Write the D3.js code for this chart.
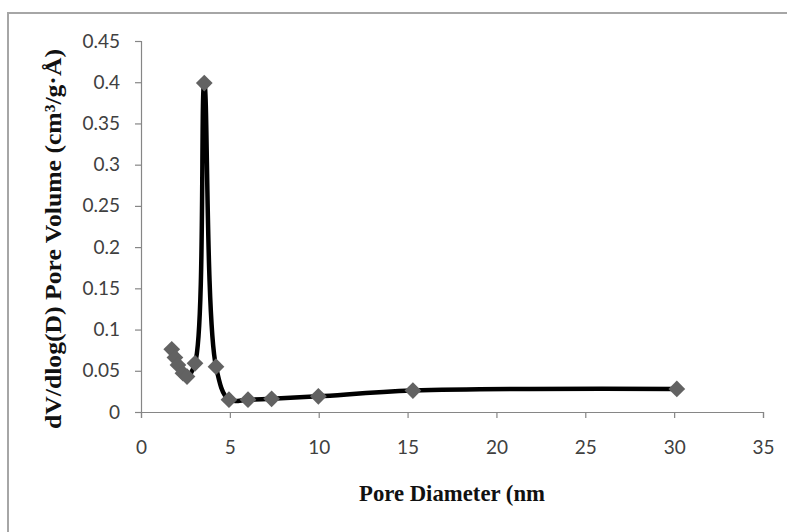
<!DOCTYPE html>
<html>
<head>
<meta charset="utf-8">
<script src="https://cdn.jsdelivr.net/npm/d3@7"></script>
<style>
  body { margin: 0; background: #fff; }
  .tick text { font-family: Lato, "Open Sans", sans-serif; font-size: 19px; fill: #404040; }
  .axisTitle { font-family: "Liberation Serif", "DejaVu Serif", serif; font-weight: bold; fill: #111; }
</style>
</head>
<body>
<div id="chart"></div>
<script>
// pore size distribution
var poreDiameter = [1.73, 1.91, 2.08, 2.36, 2.59, 3.04, 3.56, 4.22, 4.95, 6.02, 7.35, 9.98, 15.3, 30.15];
var poreVolume   = [0.076, 0.066, 0.057, 0.047, 0.043, 0.059, 0.399, 0.055, 0.015, 0.015, 0.016, 0.019, 0.026, 0.028];
var xTicks = [0, 5, 10, 15, 20, 25, 30, 35];
var yTicks = [0, 0.05, 0.1, 0.15, 0.2, 0.25, 0.3, 0.35, 0.4, 0.45];

var svgWidth = 787;
var svgHeight = 532;
var margin = {top: 41, right: 24, bottom: 120, left: 141};

var svg = d3.select('#chart')
  .append('svg')
  .attr('width', svgWidth)
  .attr('height', svgHeight);

// outer chart frame (runs off the right and bottom of the picture)
svg.append('rect')
  .attr('x', 8)
  .attr('y', 13)
  .attr('width', 820)
  .attr('height', 600)
  .attr('fill', '#fff')
  .attr('stroke', '#a6a6a6')
  .attr('stroke-width', 2);

var data = poreDiameter.map(function(d, i) { return {x: d, y: poreVolume[i]}; });

var xScale = d3.scaleLinear()
  .domain([0, 35])
  .range([margin.left, svgWidth - margin.right]);

var yScale = d3.scaleLinear()
  .domain([0, 0.45])
  .range([svgHeight - margin.bottom, margin.top]);

var bottomAxis = d3.axisBottom(xScale)
  .tickValues(xTicks)
  .tickSize(6)
  .tickPadding(23)
  .tickFormat(d3.format('d'));

var leftAxis = d3.axisLeft(yScale)
  .tickValues(yTicks)
  .tickSize(6)
  .tickPadding(15)
  .tickFormat(function(d) { return String(+d.toFixed(2)); });

var xAxis = svg.append('g')
  .attr('transform', 'translate(0,' + yScale(0) + ')')
  .call(bottomAxis);

var yAxis = svg.append('g')
  .attr('transform', 'translate(' + xScale(0) + ',0)')
  .call(leftAxis);

[xAxis, yAxis].forEach(function(ax) {
  ax.select('.domain').attr('stroke', '#868686').attr('stroke-width', 1.2);
  ax.selectAll('.tick line').attr('stroke', '#868686').attr('stroke-width', 1.2);
});

// smoothed line
var line = d3.line()
  .x(function(d) { return xScale(d.x); })
  .y(function(d) { return yScale(d.y); })
  .curve(d3.curveCatmullRom.alpha(0.5));

svg.append('path')
  .datum(data)
  .attr('d', line)
  .attr('fill', 'none')
  .attr('stroke', '#000')
  .attr('stroke-width', 4.5)
  .attr('stroke-linejoin', 'round');

// diamond markers
var diamond = d3.symbol().type(d3.symbolSquare).size(140);

svg.selectAll('.marker')
  .data(data)
  .enter()
  .append('path')
  .attr('class', 'marker')
  .attr('d', diamond)
  .attr('transform', function(d) {
    return 'translate(' + xScale(d.x) + ',' + yScale(d.y) + ') rotate(45)';
  })
  .attr('fill', '#626262');

// axis titles
svg.append('text')
  .attr('class', 'axisTitle')
  .attr('x', 452)
  .attr('y', 501)
  .attr('text-anchor', 'middle')
  .attr('font-size', 23)
  .attr('textLength', 186)
  .attr('lengthAdjust', 'spacingAndGlyphs')
  .text('Pore Diameter (nm');

svg.append('text')
  .attr('class', 'axisTitle')
  .attr('transform', 'translate(61,239) rotate(-90)')
  .attr('text-anchor', 'middle')
  .attr('font-size', 23)
  .attr('textLength', 380)
  .attr('lengthAdjust', 'spacingAndGlyphs')
  .text('dV/dlog(D) Pore Volume (cm³/g·Å)');
</script>
</body>
</html>
